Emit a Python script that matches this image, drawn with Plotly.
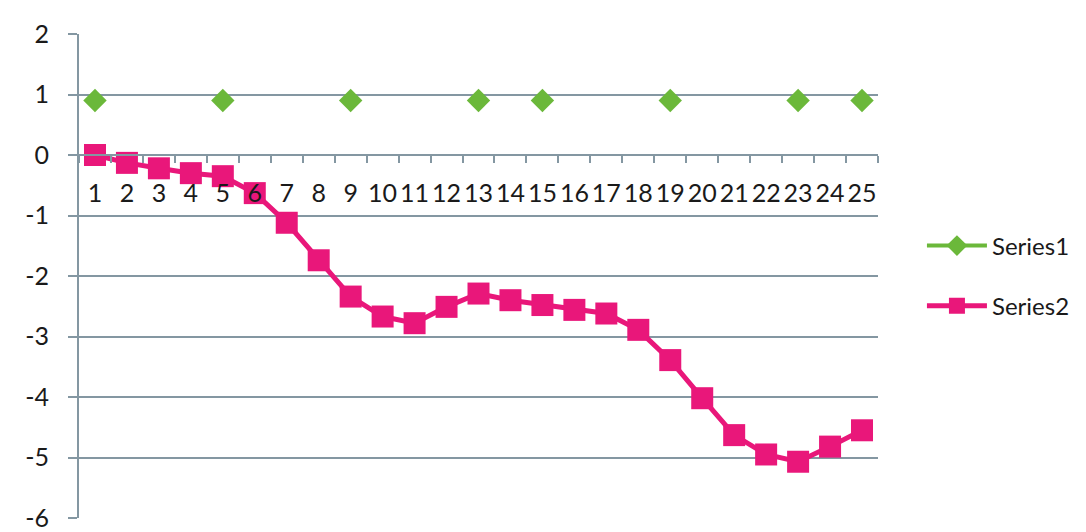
import plotly.graph_objects as go

categories = [str(i) for i in range(1, 26)]
series1 = [0.9, None, None, None, 0.9, None, None, None, 0.9, None, None, None, 0.9,
           None, 0.9, None, None, None, 0.9, None, None, None, 0.9, None, 0.9]
series2 = [0.0, -0.13, -0.22, -0.30, -0.35, -0.63, -1.12, -1.74, -2.34, -2.67, -2.78,
           -2.51, -2.29, -2.40, -2.48, -2.56, -2.62, -2.89, -3.39, -4.02, -4.63, -4.95,
           -5.07, -4.82, -4.55]
y_ticks = [-6, -5, -4, -3, -2, -1, 0, 1, 2]
y_tick_text = ["-6", "-5", "-4", "-3", "-2", "-1", "0", "1", "2"]

GREEN = "#6BB83A"
PINK = "#E9177A"
GRID = "#8497A2"
FONT = "Lato"

fig = go.Figure()
fig.add_trace(go.Scatter(
    x=categories, y=series1, name="Series1", mode="lines+markers",
    line=dict(color=GREEN, width=4), connectgaps=False,
    marker=dict(symbol="diamond", size=18, color=GREEN),
    legendgroup="a",
))
fig.add_trace(go.Scatter(
    x=categories, y=series2, name="Series2", mode="lines+markers",
    line=dict(color=PINK, width=5),
    marker=dict(symbol="square", size=22, color=PINK),
    legendgroup="b",
))

fig.update_layout(
    width=1086, height=532,
    margin=dict(l=79, r=208, t=34, b=14, autoexpand=False),
    paper_bgcolor="white", plot_bgcolor="white",
    font=dict(family=FONT, size=25, color="#1a1a1a"),
    showlegend=True,
    legend=dict(x=1.055, y=0.5, xanchor="left", yanchor="middle",
                font=dict(family=FONT, size=24, color="#1a1a1a"),
                itemwidth=60,
                tracegroupgap=26, bgcolor="rgba(0,0,0,0)"),
    xaxis=dict(
        type="category", range=[-0.5, 24.5], anchor="free", position=0.75,
        showgrid=False, showline=True, linecolor=GRID, linewidth=2,
        ticks="outside", tickson="boundaries", ticklen=7, tickwidth=2, tickcolor=GRID,
        tickfont=dict(family=FONT, size=25, color="#1a1a1a"),
        tickangle=0, automargin=False,
        ticklabelstandoff=16, zeroline=False,
    ),
    yaxis=dict(
        range=[-6, 2], tickvals=y_ticks, ticktext=y_tick_text, domain=[0, 1],
        showgrid=True, gridcolor=GRID, gridwidth=2,
        showline=True, linecolor=GRID, linewidth=2,
        ticks="outside", ticklen=9, tickwidth=2, tickcolor=GRID,
        tickfont=dict(family=FONT, size=25, color="#1a1a1a"),
        zeroline=False, ticklabelstandoff=14, automargin=False,
    ),
)

fig.write_html(
    "out.html",
    config={"displayModeBar": False},
    post_script="document.body.style.margin='0';document.body.style.overflow='hidden';",
)
